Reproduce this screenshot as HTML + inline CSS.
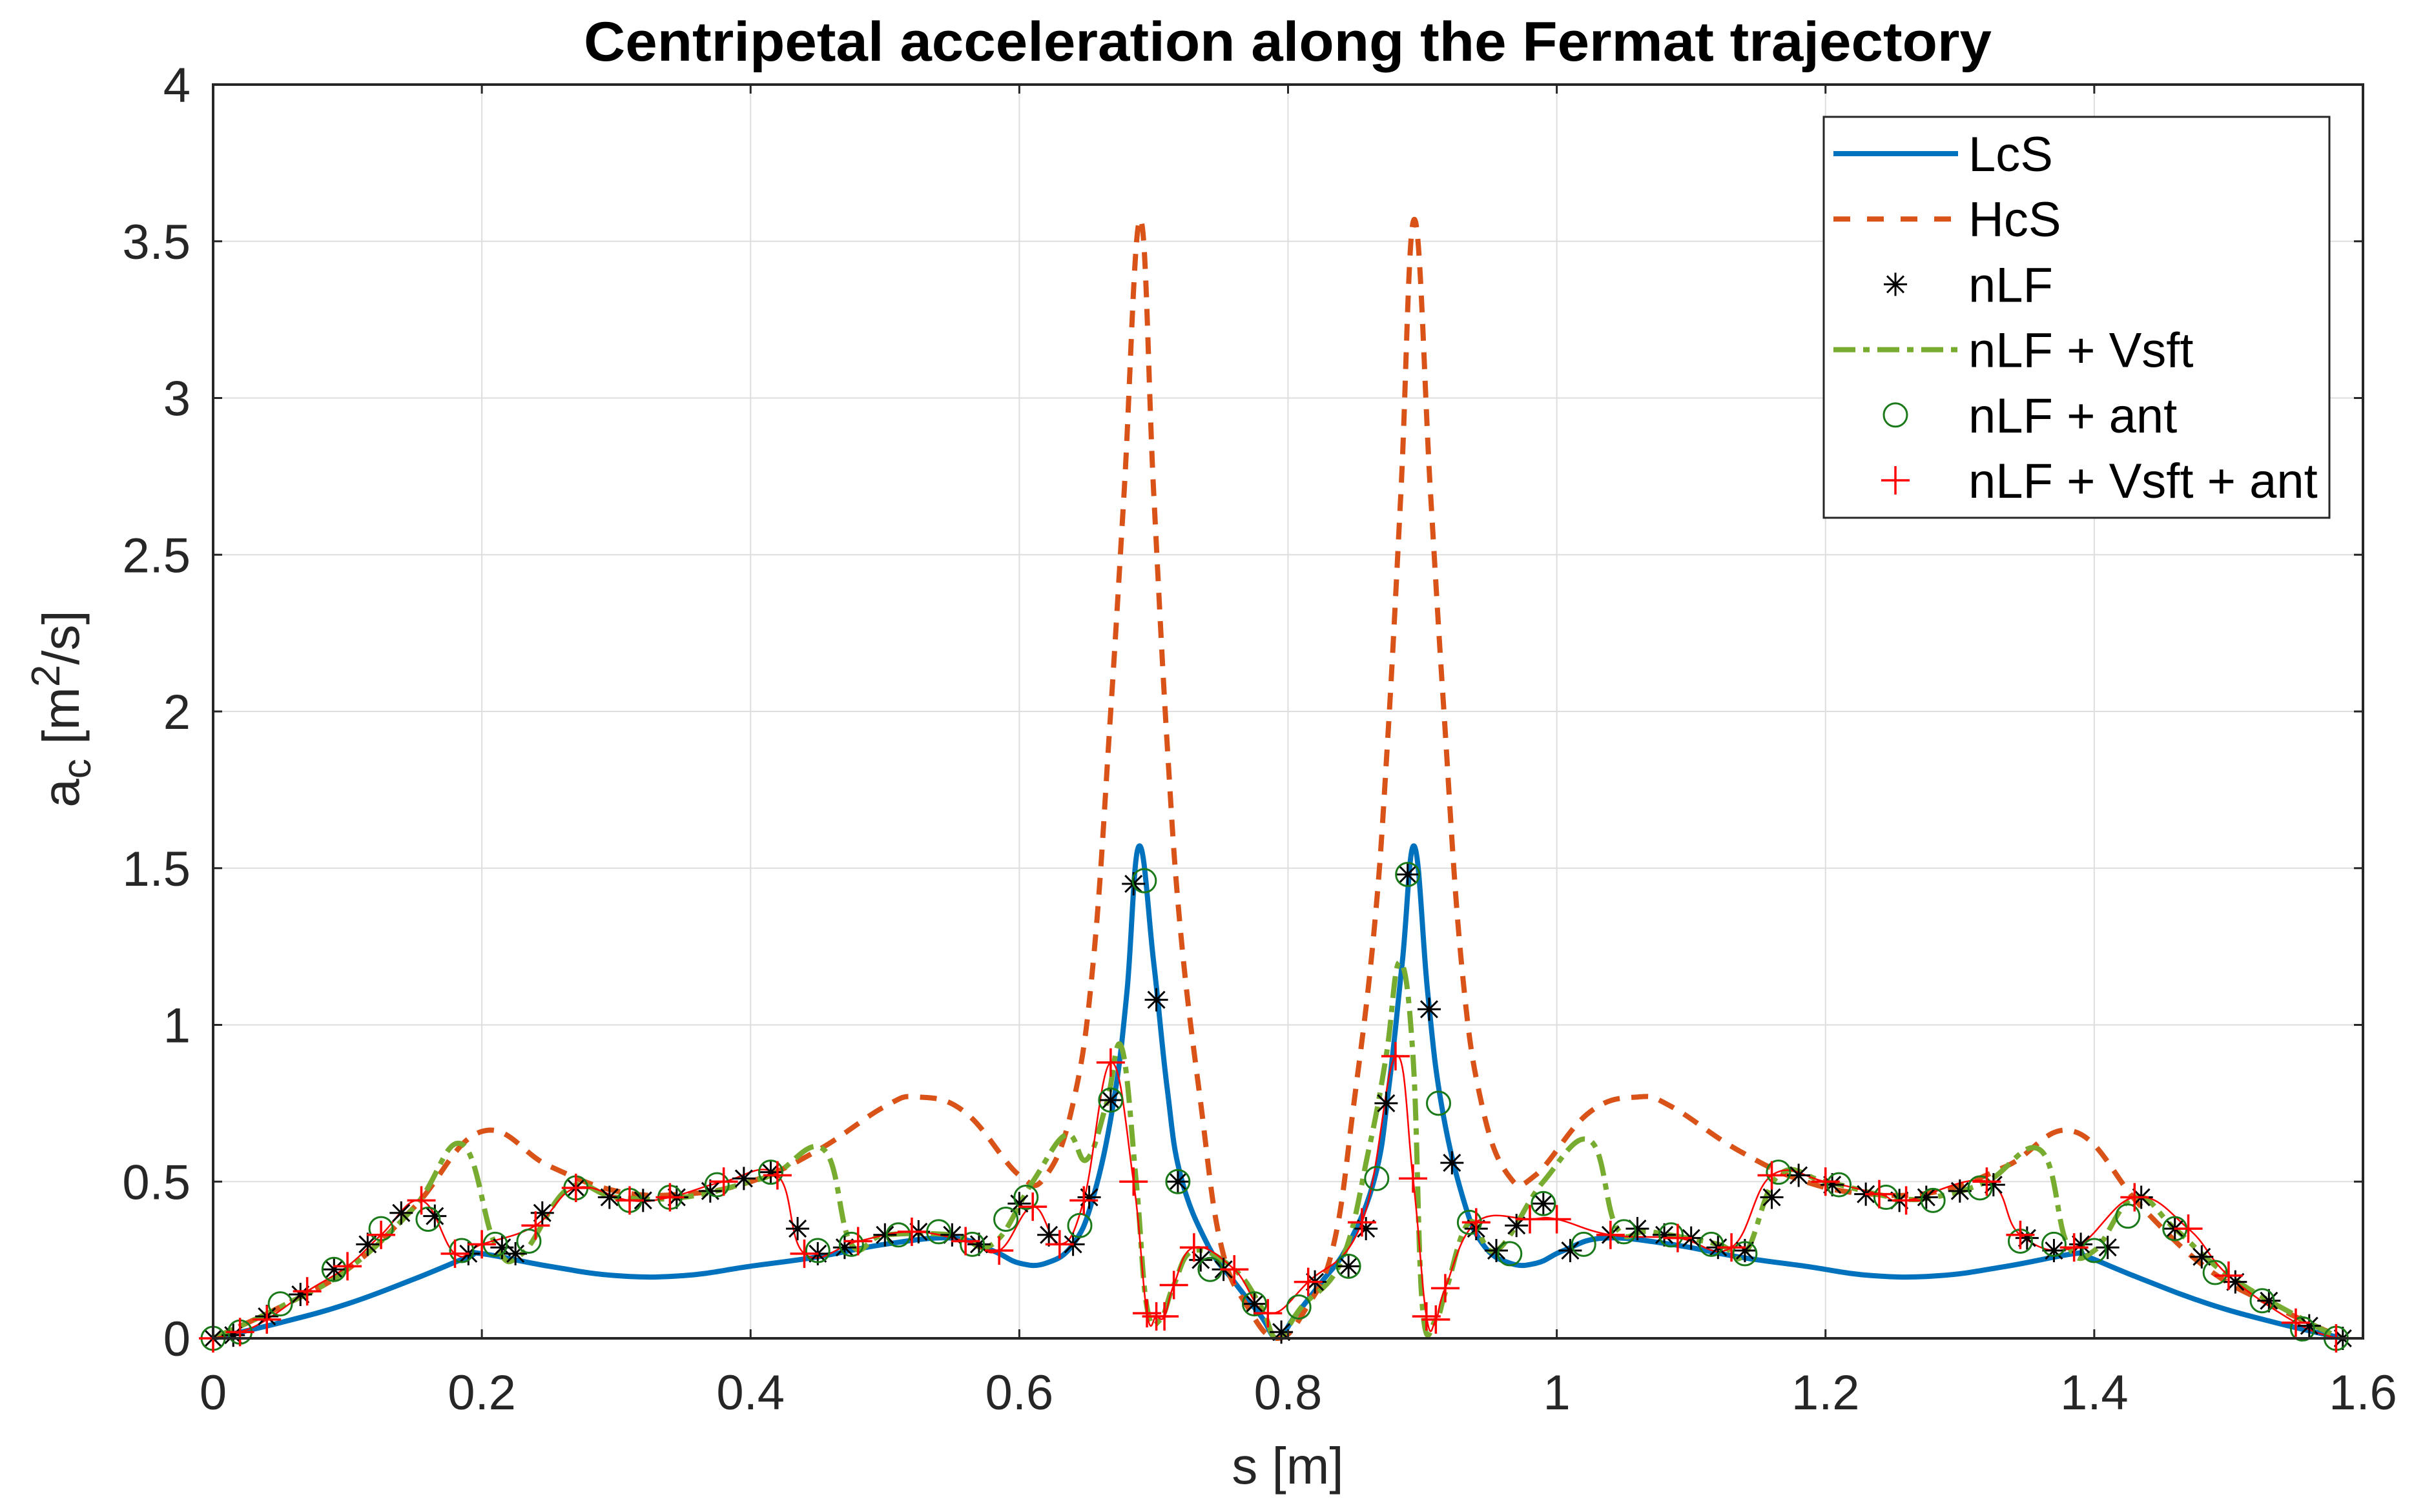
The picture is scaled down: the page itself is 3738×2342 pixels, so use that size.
<!DOCTYPE html>
<html><head><meta charset="utf-8"><style>
html,body{margin:0;padding:0;background:#fff}
svg{display:block}
text{font-family:"Liberation Sans",Arial,sans-serif}
</style></head><body>
<svg id="chart" width="3738" height="2342" viewBox="0 0 3738 2342" xmlns="http://www.w3.org/2000/svg">
<rect x="0" y="0" width="3738" height="2342" fill="#fff"/>
<g id="grid"></g>
<g id="series"></g>
<g id="axes"></g>
<text x="1994" y="94" font-size="86" font-weight="bold" text-anchor="middle" fill="#000" textLength="2180" lengthAdjust="spacingAndGlyphs">Centripetal acceleration along the Fermat trajectory</text>
<text x="1994" y="2298" font-size="80" text-anchor="middle" fill="#262626">s [m]</text>
<text transform="translate(122,1098) rotate(-90)" font-size="80" text-anchor="middle" fill="#262626">a<tspan font-size="62" dy="18">c</tspan><tspan dy="-18"> [m</tspan><tspan font-size="62" dy="-30">2</tspan><tspan dy="30">/s]</tspan></text>
<g id="legend"></g>
</svg>
<script>
const xTicks=[0,0.2,0.4,0.6,0.8,1,1.2,1.4,1.6];
const xTickLabels=["0","0.2","0.4","0.6","0.8","1","1.2","1.4","1.6"];
const yTicks=[0,0.5,1,1.5,2,2.5,3,3.5,4];
const yTickLabels=["0","0.5","1","1.5","2","2.5","3","3.5","4"];
const lcsS=[0,0.05,0.1,0.15,0.19,0.2,0.25,0.3,0.35,0.4,0.45,0.5,0.55,0.58,0.6,0.62,0.64,0.655,0.67,0.68,0.689,0.7,0.71,0.72,0.74,0.76,0.78,0.792,0.805,0.825,0.845,0.865,0.875,0.885,0.894,0.904,0.914,0.93,0.945,0.965,0.985,1.005,1.035,1.085,1.135,1.185,1.235,1.285,1.335,1.385,1.395,1.435,1.485,1.535,1.585];
const lcsV=[0,0.05,0.11,0.19,0.26,0.27,0.23,0.2,0.2,0.23,0.26,0.3,0.32,0.28,0.24,0.24,0.3,0.45,0.75,1.1,1.57,1.2,0.8,0.52,0.3,0.18,0.07,0,0.07,0.18,0.3,0.52,0.8,1.2,1.57,1.1,0.75,0.45,0.3,0.24,0.24,0.28,0.32,0.3,0.26,0.23,0.2,0.2,0.23,0.27,0.26,0.19,0.11,0.05,0];
const hcsS=[0,0.05,0.1,0.15,0.2,0.25,0.3,0.35,0.4,0.45,0.5,0.525,0.56,0.6,0.62,0.64,0.655,0.668,0.678,0.69,0.7,0.71,0.72,0.735,0.75,0.77,0.792,0.814,0.834,0.849,0.864,0.874,0.884,0.894,0.906,0.916,0.929,0.944,0.964,0.984,1.024,1.06,1.085,1.135,1.185,1.235,1.285,1.335,1.385,1.435,1.485,1.535,1.585];
const hcsV=[0,0.1,0.22,0.42,0.66,0.55,0.47,0.46,0.5,0.6,0.74,0.77,0.72,0.52,0.52,0.75,1.2,2.0,2.7,3.57,2.7,1.9,1.3,0.75,0.3,0.1,0,0.1,0.3,0.75,1.3,1.9,2.7,3.57,2.7,2.0,1.2,0.75,0.52,0.52,0.72,0.77,0.74,0.6,0.5,0.46,0.47,0.55,0.66,0.42,0.22,0.1,0];
const vsftS=[0,0.05,0.1,0.15,0.185,0.21,0.23,0.265,0.3,0.35,0.4,0.42,0.455,0.475,0.5,0.55,0.58,0.61,0.635,0.65,0.665,0.676,0.687,0.695,0.705,0.715,0.73,0.76,0.78,0.792,0.81,0.84,0.86,0.873,0.883,0.893,0.9,0.91,0.918,0.935,0.955,0.99,1.025,1.045,1.07,1.12,1.14,1.165,1.2,1.25,1.28,1.32,1.36,1.38,1.4,1.43,1.46,1.5,1.56,1.585];
const vsftV=[0,0.1,0.22,0.42,0.62,0.3,0.27,0.48,0.45,0.45,0.5,0.53,0.6,0.3,0.33,0.33,0.3,0.5,0.65,0.57,0.75,0.93,0.5,0.1,0.06,0.17,0.28,0.22,0.1,0,0.1,0.25,0.6,0.9,1.2,0.9,0.1,0.06,0.16,0.37,0.28,0.5,0.63,0.35,0.34,0.3,0.27,0.52,0.5,0.45,0.45,0.5,0.6,0.3,0.28,0.45,0.35,0.2,0.05,0];
const nlfS=[0,0.015,0.04,0.065,0.09,0.115,0.14,0.165,0.19,0.215,0.225,0.245,0.27,0.295,0.32,0.345,0.37,0.395,0.415,0.435,0.45,0.47,0.5,0.525,0.55,0.57,0.6,0.622,0.64,0.652,0.668,0.685,0.702,0.718,0.735,0.752,0.775,0.795,0.82,0.845,0.858,0.873,0.889,0.905,0.922,0.94,0.955,0.97,0.99,1.01,1.04,1.06,1.08,1.1,1.12,1.14,1.16,1.18,1.205,1.23,1.255,1.275,1.3,1.325,1.35,1.37,1.39,1.41,1.435,1.46,1.48,1.505,1.53,1.56,1.585];
const nlfV=[0,0.01,0.07,0.14,0.22,0.3,0.4,0.39,0.27,0.29,0.27,0.4,0.48,0.45,0.44,0.45,0.47,0.51,0.53,0.35,0.27,0.29,0.33,0.34,0.33,0.3,0.43,0.33,0.3,0.45,0.76,1.45,1.08,0.5,0.25,0.22,0.11,0.02,0.18,0.23,0.35,0.75,1.48,1.05,0.56,0.35,0.28,0.36,0.43,0.28,0.33,0.35,0.33,0.32,0.29,0.28,0.45,0.52,0.49,0.46,0.44,0.45,0.47,0.49,0.32,0.28,0.3,0.29,0.45,0.35,0.26,0.18,0.12,0.04,0];
const antS=[0,0.02,0.05,0.09,0.125,0.16,0.185,0.21,0.235,0.27,0.31,0.34,0.375,0.415,0.45,0.475,0.51,0.54,0.565,0.59,0.605,0.645,0.668,0.693,0.718,0.742,0.775,0.808,0.845,0.866,0.889,0.912,0.935,0.965,0.99,1.02,1.05,1.085,1.115,1.14,1.165,1.21,1.245,1.28,1.315,1.345,1.37,1.4,1.425,1.46,1.49,1.525,1.555,1.58];
const antV=[0,0.02,0.11,0.22,0.35,0.38,0.28,0.3,0.31,0.48,0.44,0.45,0.49,0.53,0.28,0.3,0.33,0.34,0.3,0.38,0.45,0.36,0.76,1.46,0.5,0.22,0.11,0.1,0.23,0.51,1.48,0.75,0.37,0.27,0.43,0.3,0.34,0.33,0.3,0.27,0.53,0.49,0.45,0.44,0.48,0.31,0.3,0.28,0.39,0.35,0.21,0.12,0.03,0];
const plusS=[0,0.02,0.04,0.07,0.1,0.125,0.155,0.18,0.2,0.24,0.27,0.31,0.34,0.38,0.42,0.44,0.48,0.52,0.56,0.585,0.61,0.63,0.648,0.668,0.685,0.695,0.702,0.708,0.715,0.73,0.76,0.785,0.815,0.855,0.88,0.893,0.903,0.91,0.917,0.94,0.98,1.0,1.04,1.09,1.13,1.16,1.2,1.24,1.26,1.32,1.345,1.385,1.43,1.47,1.5,1.55,1.58];
const plusV=[0,0.02,0.06,0.15,0.23,0.33,0.44,0.27,0.3,0.36,0.48,0.44,0.45,0.5,0.52,0.27,0.31,0.34,0.31,0.28,0.42,0.3,0.44,0.88,0.5,0.08,0.07,0.07,0.17,0.29,0.22,0.08,0.18,0.37,0.9,0.51,0.07,0.06,0.16,0.37,0.38,0.38,0.33,0.32,0.29,0.52,0.5,0.46,0.44,0.5,0.33,0.29,0.45,0.35,0.2,0.05,0];

const X0=330,X1=3659,Y0=2073,Y1=131;
const xs=v=>X0+(v-0)/(1.6-0)*(X1-X0);
const ys=v=>Y0-(v-0)/(4-0)*(Y0-Y1);
const NS="http://www.w3.org/2000/svg";
function mk(tag,attrs,parent){const e=document.createElementNS(NS,tag);for(const k in attrs)e.setAttribute(k,attrs[k]);parent.appendChild(e);return e;}
const grid=document.getElementById('grid'),axes=document.getElementById('axes'),ser=document.getElementById('series'),leg=document.getElementById('legend');

xTicks.forEach((t,i)=>{
  const g=mk('line',{x1:xs(t),x2:xs(t),y1:Y1,y2:Y0,stroke:'#dedede','stroke-width':2},grid);
  
  
  mk('line',{x1:xs(t),x2:xs(t),y1:Y0,y2:Y0-14,stroke:'#262626','stroke-width':3},axes);
  mk('line',{x1:xs(t),x2:xs(t),y1:Y1,y2:Y1+14,stroke:'#262626','stroke-width':3},axes);
  const tx=mk('text',{x:xs(t),y:2183,'font-size':76,'text-anchor':'middle',fill:'#262626'},axes);
  tx.textContent=xTickLabels[i];
  
  
});
yTicks.forEach((t,i)=>{
  const g=mk('line',{x1:X0,x2:X1,y1:ys(t),y2:ys(t),stroke:'#dedede','stroke-width':2},grid);
  
  
  mk('line',{x1:X0,x2:X0+14,y1:ys(t),y2:ys(t),stroke:'#262626','stroke-width':3},axes);
  mk('line',{x1:X1,x2:X1-14,y1:ys(t),y2:ys(t),stroke:'#262626','stroke-width':3},axes);
  const tx=mk('text',{x:295,y:ys(t)+27,'font-size':76,'text-anchor':'end',fill:'#262626'},axes);
  tx.textContent=yTickLabels[i];
  
  
});
const frame=mk('rect',{x:X0,y:Y1,width:X1-X0,height:Y0-Y1,fill:'none',stroke:'#262626','stroke-width':4},axes);



function smooth(S,V){
  const P=S.map((s,i)=>[xs(s),ys(V[i])]);
  let d='M'+P[0][0].toFixed(1)+','+P[0][1].toFixed(1);
  for(let i=0;i<P.length-1;i++){
    const p0=P[i-1]||P[i],p1=P[i],p2=P[i+1],p3=P[i+2]||P[i+1];
    const t=0.2;
    const c1=[p1[0]+(p2[0]-p0[0])*t,p1[1]+(p2[1]-p0[1])*t];
    const c2=[p2[0]-(p3[0]-p1[0])*t,p2[1]-(p3[1]-p1[1])*t];
    d+=' C'+c1[0].toFixed(1)+','+c1[1].toFixed(1)+' '+c2[0].toFixed(1)+','+c2[1].toFixed(1)+' '+p2[0].toFixed(1)+','+p2[1].toFixed(1);
  }
  return d;
}
const lcs=mk('path',{d:smooth(lcsS,lcsV),fill:'none',stroke:'#0072BD','stroke-width':8,'stroke-linejoin':'round'},ser);


const hcs=mk('path',{d:smooth(hcsS,hcsV),fill:'none',stroke:'#D95319','stroke-width':8,'stroke-dasharray':'26,18'},ser);


const vs=mk('path',{d:smooth(vsftS,vsftV),fill:'none',stroke:'#77AC30','stroke-width':8,'stroke-dasharray':'34,12,10,12'},ser);


const rl=mk('path',{d:smooth(plusS,plusV),fill:'none',stroke:'#ff0000','stroke-width':2.5},ser);



function star(cx,cy,r,parent){const g=mk('g',{stroke:'#000','stroke-width':3},parent);
  mk('line',{x1:cx-r,y1:cy,x2:cx+r,y2:cy},g);mk('line',{x1:cx,y1:cy-r,x2:cx,y2:cy+r},g);
  const d=r*0.72;mk('line',{x1:cx-d,y1:cy-d,x2:cx+d,y2:cy+d},g);mk('line',{x1:cx-d,y1:cy+d,x2:cx+d,y2:cy-d},g);return g;}
function circ(cx,cy,r,parent){return mk('circle',{cx:cx,cy:cy,r:r,fill:'none',stroke:'#1a7a1a','stroke-width':3},parent);}
function plus(cx,cy,r,parent){const g=mk('g',{stroke:'#ff0000','stroke-width':3.5},parent);
  mk('line',{x1:cx-r,y1:cy,x2:cx+r,y2:cy},g);mk('line',{x1:cx,y1:cy-r,x2:cx,y2:cy+r},g);return g;}
nlfS.forEach((s,i)=>{const m=star(xs(s),ys(nlfV[i]),18,ser);
  
  });
antS.forEach((s,i)=>{const m=circ(xs(s),ys(antV[i]),18,ser);
  
  });
plusS.forEach((s,i)=>{const m=plus(xs(s),ys(plusV[i]),22,ser);
  
  });

const lb=mk('rect',{x:2824,y:181,width:783,height:621,fill:'#fff',stroke:'#262626','stroke-width':3},leg);


const labels=["LcS","HcS","nLF","nLF + Vsft","nLF + ant","nLF + Vsft + ant"];
labels.forEach((lab,i)=>{
  const y=238+i*101.2;
  const g=mk('g',{},leg);
  
  
  if(i===0)mk('line',{x1:2839,x2:3032,y1:y,y2:y,stroke:'#0072BD','stroke-width':8},g);
  if(i===1)mk('line',{x1:2839,x2:3022,y1:y,y2:y,stroke:'#D95319','stroke-width':8,'stroke-dasharray':'26,26'},g);
  if(i===2)star(2935,y,18,g);
  if(i===3)mk('line',{x1:2839,x2:3032,y1:y,y2:y,stroke:'#77AC30','stroke-width':8,'stroke-dasharray':'34,12,10,12'},g);
  if(i===4)circ(2935,y,18,g);
  if(i===5)plus(2935,y,22,g);
  const t=mk('text',{x:3048,y:y+27,'font-size':76,fill:'#000'},g);
  t.textContent=lab;
});
</script>
</body></html>
